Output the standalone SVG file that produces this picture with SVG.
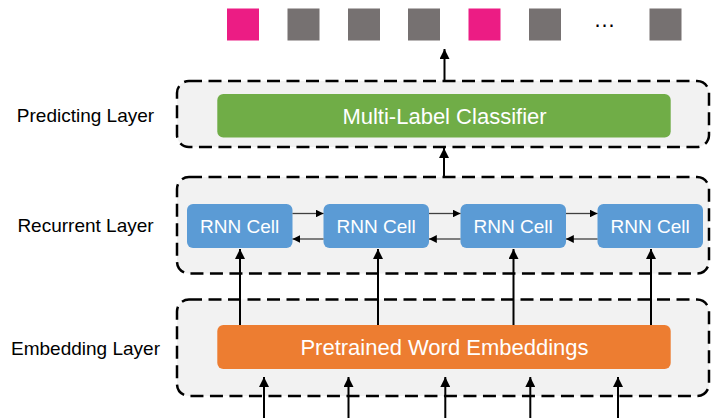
<svg xmlns="http://www.w3.org/2000/svg" width="712" height="418" viewBox="0 0 712 418">
<defs>
<style>
.layer{fill:#F2F2F2;stroke:#000;stroke-width:2.5;stroke-dasharray:13 6.5}
.lbl{font-family:"Liberation Sans",Arial,sans-serif;font-size:19px;fill:#000;text-anchor:middle}
.wt{font-family:"Liberation Sans",Arial,sans-serif;fill:#fff;text-anchor:middle}
.cell{fill:#5B9BD5}
.pink{fill:#EC1C84}
.gray{fill:#767171}
.thick{stroke:#000;stroke-width:2;fill:none;marker-end:url(#ah)}
.thin{stroke:#404040;stroke-width:1.3;fill:none;marker-end:url(#ahs)}
</style>
<marker id="ah" viewBox="0 0 10 10" refX="10" refY="5" markerWidth="5" markerHeight="5" orient="auto" markerUnits="strokeWidth">
<path d="M0,0 L10,5 L0,10 z" fill="#000"/>
</marker>
<marker id="ahs" viewBox="0 0 10 10" refX="10" refY="5" markerWidth="6" markerHeight="6" orient="auto" markerUnits="strokeWidth">
<path d="M0,0 L10,5 L0,10 z" fill="#000"/>
</marker>
</defs>
<rect width="712" height="418" fill="#fff"/>

<g id="outputs">
<rect class="pink" x="227" y="8.5" width="32" height="32"/>
<rect class="gray" x="287.5" y="8.5" width="32" height="32"/>
<rect class="gray" x="348" y="8.5" width="32" height="32"/>
<rect class="gray" x="408" y="8.5" width="32" height="32"/>
<rect class="pink" x="468.5" y="8.5" width="32" height="32"/>
<rect class="gray" x="529" y="8.5" width="32" height="32"/>
<text x="604.5" y="27" font-family="Liberation Sans, Arial, sans-serif" font-size="22" text-anchor="middle" fill="#000">…</text>
<rect class="gray" x="649.5" y="8.5" width="32" height="32"/>
</g>

<g id="predicting-layer">
<rect class="layer" x="177" y="81" width="532" height="66" rx="12"/>
<text class="lbl" x="85.5" y="122.3">Predicting Layer</text>
</g>
<g id="recurrent-layer">
<rect class="layer" x="177" y="177" width="532" height="96.5" rx="12"/>
<text class="lbl" x="85.5" y="232.3">Recurrent Layer</text>
</g>
<g id="embedding-layer">
<rect class="layer" x="177" y="299.5" width="532" height="96.5" rx="12"/>
<text class="lbl" x="85.5" y="355">Embedding Layer</text>
</g>

<g id="classifier">
<rect x="217.3" y="94" width="453.4" height="43.5" rx="6" fill="#70AD47"/>
<text class="wt" x="444.5" y="123.6" font-size="22">Multi-Label Classifier</text>
</g>
<g id="embeddings">
<rect x="217.3" y="325" width="453.4" height="44" rx="6" fill="#ED7D31"/>
<text class="wt" x="444.5" y="355" font-size="22">Pretrained Word Embeddings</text>
</g>
<g id="cell1">
<rect class="cell" x="187" y="204" width="105.5" height="44" rx="6"/>
<text class="wt" x="239.7" y="233.3" font-size="19">RNN Cell</text>
</g>
<g id="cell2">
<rect class="cell" x="323.5" y="204" width="105.5" height="44" rx="6"/>
<text class="wt" x="376.2" y="233.3" font-size="19">RNN Cell</text>
</g>
<g id="cell3">
<rect class="cell" x="460.5" y="204" width="105.5" height="44" rx="6"/>
<text class="wt" x="513.2" y="233.3" font-size="19">RNN Cell</text>
</g>
<g id="cell4">
<rect class="cell" x="597.5" y="204" width="105.5" height="44" rx="6"/>
<text class="wt" x="650.2" y="233.3" font-size="19">RNN Cell</text>
</g>

<g id="connectors">
<line class="thick" x1="444.5" y1="81" x2="444.5" y2="49"/>
<line class="thick" x1="444" y1="177" x2="444" y2="148"/>
<line class="thick" x1="240" y1="325" x2="240" y2="249"/>
<line class="thick" x1="378" y1="325" x2="378" y2="249"/>
<line class="thick" x1="513.5" y1="325" x2="513.5" y2="249"/>
<line class="thick" x1="651" y1="325" x2="651" y2="249"/>
<line class="thick" x1="264" y1="418" x2="264" y2="377"/>
<line class="thick" x1="348.5" y1="418" x2="348.5" y2="377"/>
<line class="thick" x1="445.3" y1="418" x2="445.3" y2="377"/>
<line class="thick" x1="530.3" y1="418" x2="530.3" y2="377"/>
<line class="thick" x1="618" y1="418" x2="618" y2="377"/>
<line class="thin" x1="292.5" y1="213.5" x2="323.5" y2="213.5"/>
<line class="thin" x1="323.5" y1="239" x2="292.5" y2="239"/>
<line class="thin" x1="429" y1="213.5" x2="460.5" y2="213.5"/>
<line class="thin" x1="460.5" y1="239" x2="429" y2="239"/>
<line class="thin" x1="566" y1="213.5" x2="597.5" y2="213.5"/>
<line class="thin" x1="597.5" y1="239" x2="566" y2="239"/>
</g>
</svg>
